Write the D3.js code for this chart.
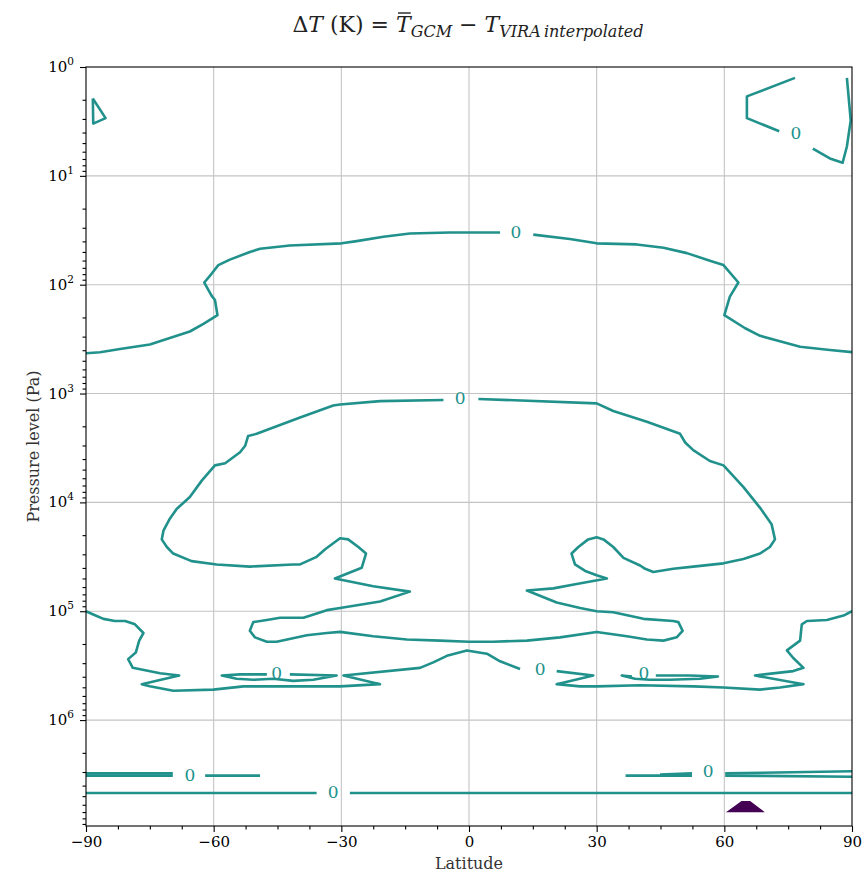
<!DOCTYPE html>
<html><head><meta charset="utf-8">
<script src="https://cdn.jsdelivr.net/npm/d3@7"></script>
<style>body{margin:0;background:#fff}</style>
</head><body>
<svg id="chart" width="868" height="874"></svg>
<script>
// ---------- data ----------
// axis ticks
const latTicks = [-90, -60, -30, 0, 30, 60, 90];
const latMinorTicks = [-82.5, -75, -67.5, -52.5, -45, -37.5, -22.5, -15, -7.5, 7.5, 15, 22.5, 37.5, 45, 52.5, 67.5, 75, 82.5];
const pressureTickExponents = [0, 1, 2, 3, 4, 5, 6];
const latDomain = [-90, 90];
const pressureDomain = [1, 9.4e6];

// zero-level contour pieces: each point = [latitude (deg), log10 pressure (Pa)]
const zeroTopLeftLoop = [[-88.4,0.29],[-85.4,0.47],[-88.3,0.52],[-88.4,0.29]];
const zeroTopRightA = [[76.6,0.10],[65.3,0.27],[65.3,0.47],[72.9,0.59]];
const zeroTopRightB = [[80.8,0.75],[84.8,0.84],[87.8,0.88],[88.8,0.73],[89.7,0.49],[88.8,0.10]];
const zeroUpperA = [[-90,2.63],[-86.7,2.62],[-82.0,2.59],[-75.0,2.55],[-65.6,2.43],[-62.4,2.36],[-59.1,2.28],[-59.7,2.14],[-60.5,2.10],[-62.2,1.98],[-60.5,1.90],[-58.9,1.82],[-56.2,1.77],[-51.5,1.70],[-49.1,1.67],[-42.1,1.64],[-29.9,1.62],[-26.4,1.60],[-20.1,1.56],[-13.9,1.53],[-4.5,1.52],[7.3,1.52]];
const zeroUpperB = [[15.1,1.54],[23.7,1.58],[30.0,1.62],[39.4,1.63],[45.7,1.66],[51.2,1.71],[56.6,1.78],[59.8,1.82],[63.3,1.98],[61.3,2.11],[60.0,2.28],[64.9,2.40],[68.4,2.47],[77.8,2.57],[84.8,2.60],[90,2.62]];
const zeroMiddle = [[2.2,3.05],[30.0,3.09],[33.9,3.16],[41.8,3.26],[49.6,3.37],[50.8,3.45],[52.7,3.52],[56.6,3.62],[59.8,3.66],[64.5,3.86],[68.4,4.05],[71.1,4.20],[71.9,4.34],[70.7,4.41],[68.4,4.47],[64.5,4.52],[59.8,4.56],[52.7,4.59],[48.0,4.61],[43.3,4.64],[41.4,4.61],[40.2,4.58],[36.3,4.51],[33.9,4.41],[31.6,4.34],[30.0,4.32],[28.0,4.34],[25.7,4.41],[24.1,4.47],[24.9,4.57],[27.3,4.63],[30.0,4.67],[32.4,4.70],[25.3,4.75],[19.8,4.79],[13.6,4.81],[20.6,4.92],[26.1,4.97],[30.0,5.00],[33.9,5.01],[41.0,5.07],[48.0,5.09],[49.2,5.10],[50.2,5.18],[48.8,5.24],[45.7,5.27],[41.8,5.26],[37.1,5.23],[30.0,5.19],[21.4,5.24],[13.6,5.27],[5.7,5.28],[0,5.28],[-6.8,5.27],[-14.6,5.26],[-22.5,5.23],[-30.3,5.19],[-33.4,5.20],[-38.1,5.22],[-45.2,5.28],[-47.5,5.28],[-50.3,5.24],[-51.5,5.18],[-50.7,5.10],[-47.5,5.08],[-44.4,5.06],[-38.9,5.06],[-33.4,4.99],[-30.3,4.97],[-20.9,4.91],[-13.9,4.82],[-22.5,4.77],[-31.5,4.70],[-25.2,4.60],[-24.2,4.47],[-26.0,4.41],[-28.4,4.34],[-30.3,4.33],[-33.8,4.43],[-35.8,4.50],[-39.7,4.57],[-41.3,4.57],[-51.5,4.59],[-59.3,4.57],[-65.2,4.54],[-69.5,4.47],[-71.0,4.41],[-72.2,4.34],[-71.8,4.26],[-70.3,4.15],[-68.7,4.06],[-65.6,3.95],[-62.8,3.80],[-59.7,3.66],[-57.3,3.64],[-53.8,3.54],[-52.6,3.48],[-51.9,3.39],[-49.9,3.37],[-39.7,3.22],[-31.9,3.11],[-30.3,3.10],[-20.9,3.07],[-6.0,3.06]];
const zeroLowerA = [[-90,5.00],[-88.3,5.03],[-85.9,5.07],[-83.2,5.09],[-80.8,5.09],[-78.5,5.12],[-76.5,5.20],[-77.5,5.27],[-78.3,5.38],[-80.1,5.44],[-79.0,5.52],[-72.6,5.57],[-68.1,5.59],[-76.9,5.67],[-75.0,5.69],[-69.5,5.73],[-60.1,5.72],[-53.0,5.69],[-41.3,5.69],[-30.3,5.69],[-20.9,5.67],[-29.5,5.59],[-11.5,5.52],[-8.4,5.47],[-5.2,5.41],[-0.5,5.36],[4.2,5.39],[7.3,5.46],[12.0,5.53]];
const zeroLowerB = [[20.6,5.55],[29.2,5.59],[20.6,5.67],[26.1,5.69],[30.0,5.69],[40.2,5.68],[52.7,5.69],[59.8,5.70],[68.4,5.72],[73.1,5.70],[78.6,5.67],[67.2,5.59],[76.2,5.55],[78.6,5.52],[76.2,5.43],[74.7,5.36],[77.8,5.27],[78.2,5.12],[79.4,5.09],[84.1,5.08],[88.0,5.04],[90,5.00]];
const zeroLoopLeft = [[-42.1,5.58],[-31.1,5.59],[-36.6,5.63],[-41.3,5.64],[-46.0,5.62],[-50.7,5.63],[-54.6,5.62],[-58.1,5.59],[-53.8,5.58],[-47.5,5.58]];
const zeroLoopRight = [[43.9,5.59],[51.9,5.59],[58.5,5.60],[54.3,5.62],[47.2,5.63],[42.5,5.63],[39.0,5.62],[35.9,5.59],[38.3,5.60]];
const zeroDeepLeftA = [[-90,6.49],[-69.6,6.49]];
const zeroDeepLeftB = [[-90,6.51],[-69.6,6.51]];
const zeroDeepLeftC = [[-62.0,6.51],[-49.1,6.51]];
const zeroDeepA = [[-90,6.67],[-35.8,6.67]];
const zeroDeepB = [[-28.0,6.67],[90,6.67]];
const zeroDeepRightA = [[36.8,6.51],[52.4,6.51]];
const zeroDeepRightB = [[44.9,6.50],[52.4,6.49]];
const zeroDeepRightC = [[60.2,6.51],[90,6.52]];
const zeroDeepRightD = [[60.2,6.49],[90,6.47]];
const zeroLabels = [[-2.1,3.04],[11.0,1.52],[76.8,0.61],[-45.2,5.57],[16.7,5.53],[41.1,5.57],[-65.6,6.50],[-31.9,6.66],[56.2,6.47]];
// negative-level patch near the surface
const negativePatch = [[60.9,6.84],[64.1,6.75],[66.0,6.75],[69.0,6.84]];

const zeroContours = [zeroTopLeftLoop, zeroTopRightA, zeroTopRightB, zeroUpperA, zeroUpperB, zeroMiddle,
  zeroLowerA, zeroLowerB, zeroLoopLeft, zeroLoopRight, zeroDeepLeftA, zeroDeepLeftB, zeroDeepLeftC,
  zeroDeepA, zeroDeepB, zeroDeepRightA, zeroDeepRightB, zeroDeepRightC, zeroDeepRightD];

// ---------- drawing ----------
const FONT = "DejaVu Serif";
const TEAL = "#21918c";
const svg = d3.select("#chart");
const L = 86, R = 852, T = 67, B = 826;
const x = d3.scaleLinear().domain(latDomain).range([L, R]);
const y = d3.scaleLog().domain(pressureDomain).range([T, B]);
const pressureTicks = pressureTickExponents.map(e => 10 ** e);

// grid
const grid = svg.append("g");
grid.selectAll("line.v").data(latTicks.slice(1, -1)).join("line")
  .attr("x1", d => x(d)).attr("x2", d => x(d)).attr("y1", T).attr("y2", B)
  .attr("stroke", "#c4c4c4").attr("stroke-width", 1.1);
grid.selectAll("line.h").data(pressureTicks.slice(1)).join("line")
  .attr("y1", d => y(d)).attr("y2", d => y(d)).attr("x1", L).attr("x2", R)
  .attr("stroke", "#c4c4c4").attr("stroke-width", 1.1);

// clip
svg.append("clipPath").attr("id", "clip").append("rect")
  .attr("x", L).attr("y", T).attr("width", R - L).attr("height", B - T);
const plot = svg.append("g").attr("clip-path", "url(#clip)");

const line = d3.line().x(d => x(d[0])).y(d => y(10 ** d[1]));
plot.selectAll("path.c").data(zeroContours).join("path")
  .attr("d", line).attr("fill", "none").attr("stroke", TEAL)
  .attr("stroke-width", 2.6).attr("stroke-linejoin", "round").attr("stroke-linecap", "butt");

plot.append("path").datum(negativePatch).attr("d", d => line(d) + "Z")
  .attr("fill", "#440154").attr("stroke", "#440154").attr("stroke-width", 1.5);

plot.selectAll("text.lab").data(zeroLabels).join("text")
  .attr("x", d => x(d[0])).attr("y", d => y(10 ** d[1]))
  .attr("text-anchor", "middle").attr("dominant-baseline", "central")
  .attr("fill", TEAL).style("font-family", FONT).style("font-size", "17px").text("0");

// axes
const xAxis = svg.append("g").attr("transform", `translate(0,${B})`)
  .call(d3.axisBottom(x).tickValues(latTicks).tickSize(6).tickPadding(4));
svg.append("g").attr("transform", `translate(0,${B})`)
  .call(d3.axisBottom(x).tickValues(latMinorTicks).tickSize(3.5).tickFormat(""))
  .call(g => g.select(".domain").remove());
xAxis.selectAll("text").style("font-family", FONT).style("font-size", "15px").attr("fill", "#000");

const yAxis = svg.append("g").attr("transform", `translate(${L},0)`)
  .call(d3.axisLeft(y).tickValues(pressureTicks).tickSize(6).tickFormat(""));
const minorP = [];
pressureTickExponents.forEach(e => { for (let m = 2; m <= 9; m++) { const v = m * 10 ** e; if (v <= pressureDomain[1]) minorP.push(v); } });
svg.append("g").attr("transform", `translate(${L},0)`)
  .call(d3.axisLeft(y).tickValues(minorP).tickSize(3.5).tickFormat(""))
  .call(g => g.select(".domain").remove());

const yl = svg.append("g").selectAll("text").data(pressureTickExponents).join("text")
  .attr("x", L - 12).attr("y", d => y(10 ** d) + 5).attr("text-anchor", "end")
  .style("font-family", FONT).style("font-size", "15px");
yl.append("tspan").text("10");
yl.append("tspan").attr("dy", -7).style("font-size", "10.5px").text(d => d);

svg.selectAll(".tick line").attr("stroke", "#000").attr("stroke-width", 1.1);

// frame
svg.append("rect").attr("x", L).attr("y", T).attr("width", R - L).attr("height", B - T)
  .attr("fill", "none").attr("stroke", "#000").attr("stroke-width", 1.1);
svg.selectAll(".domain").remove();

// axis titles
svg.append("text").attr("x", (L + R) / 2).attr("y", 869).attr("text-anchor", "middle")
  .style("font-family", FONT).style("font-size", "16px").attr("fill", "#333").text("Latitude");
svg.append("text").attr("transform", `translate(39,${(T + B) / 2}) rotate(-90)`).attr("text-anchor", "middle")
  .style("font-family", FONT).style("font-size", "16px").attr("fill", "#333").text("Pressure level (Pa)");

// title
const title = svg.append("text").attr("x", 468).attr("y", 32).attr("text-anchor", "middle")
  .style("font-family", FONT).style("font-size", "22px").attr("fill", "#222");
title.append("tspan").text("Δ");
title.append("tspan").style("font-style", "italic").text("T");
title.append("tspan").text(" (K) = ");
title.append("tspan").style("font-style", "italic").text("T");
title.append("tspan").style("font-style", "italic").style("font-size", "16px").attr("dy", 5).text("GCM");
title.append("tspan").attr("dy", -5).text(" − ");
title.append("tspan").style("font-style", "italic").text("T");
title.append("tspan").style("font-style", "italic").style("font-size", "16px").attr("dy", 5).text("VIRA\u2009interpolated");
const ext = title.node().getExtentOfChar(9);
svg.append("line").attr("x1", ext.x + 2).attr("x2", ext.x + ext.width).attr("y1", ext.y + 1).attr("y2", ext.y + 1)
  .attr("stroke", "#222").attr("stroke-width", 1.4);
</script>
</body></html>
